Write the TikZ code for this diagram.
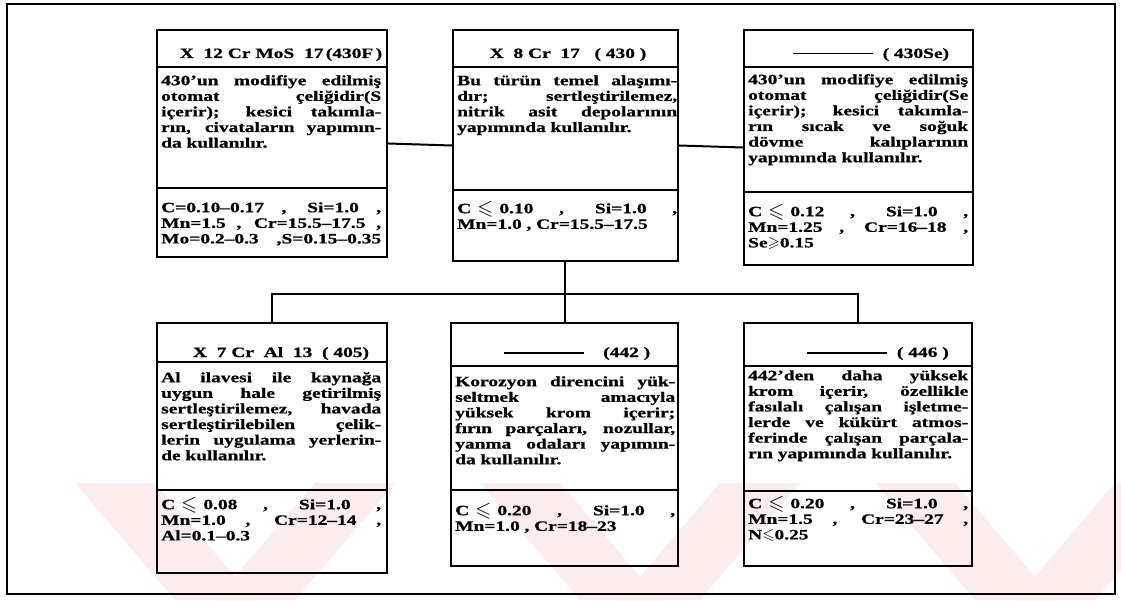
\documentclass[tikz,border=0pt]{standalone}
\usepackage{amsmath,amssymb,graphicx}
\usepackage{fontspec}
\setmainfont{Liberation Serif}[FakeStretch=1.36, BoldFeatures={FakeBold=0.8}]
\definecolor{wmpink}{RGB}{252,236,236}
\newlength\lw
\setlength\lw{220pt}
\newcommand\jl[1]{\hbox to \lw{\spaceskip=0.3em plus 1fil\relax #1}}
\newcommand\fjl[1]{\hbox to \lw{\spaceskip=0.3em plus 1fil\relax\vrule height 11pt depth 0pt width 0pt #1}}
\newcommand\mylesl{\smash{\raisebox{-1pt}{\scalebox{1.45}{$\boldsymbol{\leqslant}$}}}}
\newcommand\smlesl{\smash{\scalebox{1.1}{$\boldsymbol{\leqslant}$}}}
\newcommand\smgesl{\smash{\scalebox{1.1}{$\boldsymbol{\geqslant}$}}}
\newcommand\tdash{\rule[3.5pt]{80pt}{1.5pt}}
\newcommand\fs{\hspace{6pt}}
\begin{document}
\begin{tikzpicture}[x=1pt,y=-1pt,
  stbox/.style={draw, line width=2.4pt, rectangle, inner sep=0pt},
  divl/.style={line width=1.8pt},
  conn/.style={line width=2pt},
  wmark/.style={fill=wmpink, draw=none},
  body/.style={anchor=north west, inner sep=0pt, text width=220pt,
     font=\fontsize{14.3}{15.6}\bfseries},
  ttl/.style={anchor=base, inner sep=0pt, font=\fontsize{14.3}{16}\bfseries}]
\useasboundingbox (0,0) rectangle (1121,601);
% watermark
\begin{scope}
\clip (0,483) rectangle (1121,601);
\foreach \c in {235,640,1035}{
  \fill[wmark] (\c-160,483) -- (\c-80,483) -- (\c+20,600) -- (\c-60,600) -- cycle;
  \fill[wmark] (\c+160,483) -- (\c+80,483) -- (\c-20,600) -- (\c+60,600) -- cycle;
}
\end{scope}
% outer frame
\draw[line width=2.6pt] (7,4) rectangle (1115,594);
% boxes
\node[stbox, minimum width=230pt, minimum height=227pt] (b1) at (272,143.5) {};
\node[stbox, minimum width=225pt, minimum height=231pt] (b2) at (565.5,145.5) {};
\node[stbox, minimum width=229pt, minimum height=235pt] (b3) at (858.5,147.5) {};
\node[stbox, minimum width=230pt, minimum height=250pt] (b4) at (272,448) {};
\node[stbox, minimum width=227pt, minimum height=243pt] (b5) at (564.5,444.5) {};
\node[stbox, minimum width=228pt, minimum height=243pt] (b6) at (858,444.5) {};
% dividers
\draw[divl] (157,67) -- (387,67);  \draw[divl] (157,188) -- (387,188);
\draw[divl] (453,67) -- (678,67);  \draw[divl] (453,190) -- (678,190);
\draw[divl] (744,67) -- (973,67);  \draw[divl] (744,192) -- (973,192);
\draw[divl] (157,362) -- (387,362); \draw[divl] (157,490) -- (387,490);
\draw[divl] (451,366) -- (678,366); \draw[divl] (451,490) -- (678,490);
\draw[divl] (744,366) -- (972,366); \draw[divl] (744,491) -- (972,491);
% connectors
\coordinate (jn) at (565,294);
\draw[conn] (b1.east) -- (b2.west);
\draw[conn] (b2.east) -- (b3.west);
\draw[conn] (b2.south -| jn) -- (jn);
\draw[conn] (b4.north) |- (jn) -| (b6.north);
\draw[conn] (jn) -- (b5.north -| jn);
% titles
\node[ttl] (t1) at (281,58) {X\ \ 12\ Cr\ MoS\ \ 17\,(430F\,)};
\node[ttl] (t2) at (568,58) {X\ \ 8\ Cr\ \ 17\ \ \ (\ 430\ )};
\node[ttl] (t3) at (871,58) {\tdash\ \ (\ 430Se)};
\node[ttl] (t4) at (281,357) {X\ \ 7\ Cr\ \ Al\ \ 13\ \ (\ 405)};
\node[ttl] (t5) at (577,357) {\tdash\ \ \ \ (442\ )};
\node[ttl] (t6) at (878,357) {\tdash\ \ (\ 446\ )};
% descriptions
\node[body] (d1) at (161,74) {%
\fjl{430'un modifiye edilmiş}
\jl{otomat çeliğidir(S}
\jl{içerir); kesici takımla-}
\jl{rın, civataların yapımın-}
\hbox{da kullanılır.}};
\node[body] (d2) at (457,74) {%
\fjl{Bu türün temel alaşımı-}
\jl{dır; sertleştirilemez,}
\jl{nitrik asit depolarının}
\hbox{yapımında kullanılır.}};
\node[body] (d3) at (748,73) {%
\fjl{430'un modifiye edilmiş}
\jl{otomat çeliğidir(Se}
\jl{içerir); kesici takımla-}
\jl{rın sıcak ve soğuk}
\jl{dövme kalıplarının}
\hbox{yapımında kullanılır.}};
\node[body] (d4) at (161,371) {%
\fjl{Al ilavesi ile kaynağa}
\jl{uygun hale getirilmiş}
\jl{sertleştirilemez, havada}
\jl{sertleştirilebilen çelik-}
\jl{lerin uygulama yerlerin-}
\hbox{de kullanılır.}};
\node[body] (d5) at (455,375) {%
\fjl{Korozyon direncini yük-}
\jl{seltmek amacıyla}
\jl{yüksek krom içerir;}
\jl{fırın parçaları, nozullar,}
\jl{yanma odaları yapımın-}
\hbox{da kullanılır.}};
\node[body] (d6) at (748,369) {%
\fjl{442'den daha yüksek}
\jl{krom içerir, özellikle}
\jl{fasılalı çalışan işletme-}
\jl{lerde ve kükürt atmos-}
\jl{ferinde çalışan parçala-}
\hbox{rın yapımında kullanılır.}};
% compositions
\node[body] (c1) at (161,201) {%
\fjl{C=0.10--0.17 , Si=1.0 ,}
\jl{Mn=1.5 , Cr=15.5--17.5 ,}
\jl{Mo=0.2--0.3 ,S=0.15--0.35}};
\node[body] (c2) at (457,202) {%
\fjl{C\fs\mylesl\fs0.10 , Si=1.0 ,}
\hbox{Mn=1.0 , Cr=15.5--17.5}};
\node[body] (c3) at (748,205) {%
\fjl{C\fs\mylesl\fs0.12 , Si=1.0 ,}
\jl{Mn=1.25 , Cr=16--18 ,}
\hbox{Se\smgesl0.15}};
\node[body] (c4) at (161,498) {%
\fjl{C\fs\mylesl\fs0.08 , Si=1.0 ,}
\jl{Mn=1.0 , Cr=12--14 ,}
\hbox{Al=0.1--0.3}};
\node[body] (c5) at (455,504) {%
\fjl{C\fs\mylesl\fs0.20 , Si=1.0 ,}
\hbox{Mn=1.0 , Cr=18--23}};
\node[body] (c6) at (748,497) {%
\fjl{C\fs\mylesl\fs0.20 , Si=1.0 ,}
\jl{Mn=1.5 , Cr=23--27 ,}
\hbox{N\smlesl0.25}};
\end{tikzpicture}
\end{document}
